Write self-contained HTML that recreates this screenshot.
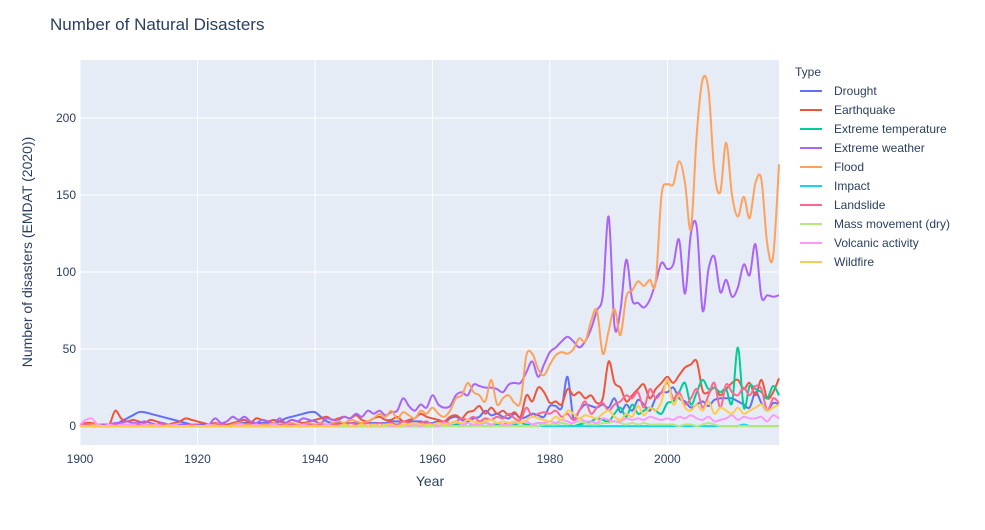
<!DOCTYPE html>
<html><head><meta charset="utf-8"><style>
body{margin:0;background:#fff;font-family:"Liberation Sans",sans-serif}
svg text{font-family:"Liberation Sans",sans-serif;fill:#2a3f5f}
</style></head><body>
<svg id="chart" width="985" height="525" xmlns="http://www.w3.org/2000/svg">
<rect width="985" height="525" fill="#fff"/>
<text x="50" y="30" font-size="17">Number of Natural Disasters</text>
<rect x="80" y="60" width="699" height="385" fill="#e5ecf6"/>
<g id="grid"></g><g id="series"></g><g id="ticks"></g>
<text x="430" y="486" font-size="14" text-anchor="middle">Year</text>
<text transform="translate(32,252) rotate(-90)" font-size="14" text-anchor="middle">Number of disasters (EMDAT (2020))</text>
<text x="795" y="76" font-size="12">Type</text>
<g id="legend"></g>
</svg>
<script>
const years=[];for(let y=1900;y<=2019;y++)years.push(y);
const seriesNames=["Drought","Earthquake","Extreme temperature","Extreme weather","Flood","Impact","Landslide","Mass movement (dry)","Volcanic activity","Wildfire"];
const colors=["#636efa","#EF553B","#00cc96","#ab63fa","#FFA15A","#19d3f3","#FF6692","#B6E880","#FF97FF","#FECB52"];
const drought=[0,0,1,1,0,1,1,3,5,7, 9,9,8,7,6,5,4,3,2,1, 1,1,1,1,1,1,1,2,2,2, 2,2,2,2,3,5,6,7,8,9, 9,6,3,2,2,2,2,2,2,2, 2,2,2,3,3,3,3,3,3,2, 2,3,2,5,6,4,3,5,6,10, 7,8,6,5,8,5,6,8,7,6, 13,13,12,32,5,10,14,13,12,14, 12,18,9,14,10,17,14,10,18,22, 22,25,18,16,12,14,16,13,17,18, 18,18,16,14,12,22,15,10,15,14];
const earthquake=[1,2,2,1,1,1,10,5,3,4, 3,2,4,3,2,1,2,3,5,4, 3,2,1,2,1,1,2,3,4,2, 5,4,3,4,3,2,4,3,2,3, 4,5,6,4,5,6,5,7,4,3, 5,6,4,4,6,3,4,5,8,6, 5,4,3,6,7,5,9,10,13,8, 12,8,10,7,9,6,20,16,25,22, 15,16,14,24,20,22,18,20,15,18, 42,28,25,16,20,24,27,18,24,28, 32,28,33,38,40,42,23,22,25,20, 24,28,30,24,28,20,30,18,22,31];
const extremeTemp=[0,0,0,0,0,0,0,0,0,0, 0,0,0,0,0,0,0,0,0,0, 0,0,0,0,0,0,0,0,0,0, 0,0,0,0,0,0,0,0,0,0, 0,0,0,0,0,0,0,0,0,0, 0,0,0,0,0,0,0,0,0,0, 0,0,1,0,1,1,0,1,1,2, 1,1,1,2,1,2,1,1,2,1, 1,1,2,1,0,1,2,3,5,4, 3,8,12,6,14,8,10,12,10,8, 15,16,22,28,14,22,30,24,25,22, 24,15,51,12,26,24,22,18,26,20];
const extremeWeather=[0,1,0,0,1,1,2,2,3,2, 2,3,2,1,2,1,0,1,1,0, 1,0,1,5,2,3,6,4,6,3, 2,4,3,2,5,2,4,3,5,4, 3,2,5,4,4,6,5,8,6,10, 8,10,7,9,10,18,13,10,14,12, 20,14,12,13,20,22,20,27,26,25, 25,24,22,27,28,28,35,42,32,40, 48,51,55,58,55,51,55,63,75,85, 136,65,75,108,82,80,77,82,93,106, 102,105,121,86,125,129,75,102,110,87, 95,84,90,105,98,118,84,85,84,85];
const flood=[1,1,1,1,0,0,0,1,1,1, 1,0,1,0,0,1,0,0,0,1, 0,0,0,1,1,0,1,2,1,1, 0,1,1,2,1,1,2,1,1,2, 1,2,1,2,3,2,4,3,2,3, 5,8,6,10,5,9,7,5,10,8, 12,8,6,10,18,20,28,22,20,16, 30,14,18,20,15,16,46,47,37,33, 40,46,48,47,50,57,55,68,75,47, 62,76,59,84,88,94,91,95,93,150, 157,157,172,158,128,190,225,218,165,152, 184,150,136,149,135,158,160,118,110,170];
const impact=[0,0,0,0,0,0,0,0,0,0, 0,0,0,0,0,0,0,0,0,0, 0,0,0,0,0,0,0,0,0,0, 0,0,0,0,0,0,0,0,0,0, 0,0,0,0,0,0,0,0,0,0, 0,0,0,0,0,0,0,0,0,0, 0,0,0,0,0,0,0,0,0,0, 0,0,0,0,0,0,0,0,0,0, 0,0,0,0,0,0,0,0,0,0, 0,0,0,0,0,0,0,0,0,0, 0,0,0,0,0,0,0,0,0,0, 0,0,0,1,0,0,0,0,0,0];
const landslide=[0,1,0,0,0,0,1,0,0,0, 1,0,0,0,1,0,0,0,0,1, 0,0,0,0,1,0,0,1,0,0, 1,0,0,0,1,0,1,0,0,1, 0,1,0,1,1,0,2,1,1,2, 1,2,1,2,1,3,2,1,2,3, 1,2,3,2,3,5,4,6,3,5, 4,6,5,8,5,4,12,6,8,9, 8,10,6,8,4,10,16,8,12,15, 10,14,16,20,18,22,12,24,18,22, 28,18,22,14,18,24,12,20,28,12, 27,22,20,25,20,26,24,10,18,15];
const massMovement=[0,0,0,0,0,0,0,0,0,0, 0,0,0,0,0,0,0,0,0,0, 0,0,0,0,0,0,0,0,0,0, 0,0,0,0,0,0,0,0,0,0, 0,0,0,0,0,0,0,0,0,0, 0,0,0,0,0,0,0,0,0,0, 0,0,0,0,0,0,0,0,0,0, 0,0,0,0,0,0,0,0,0,1, 1,1,2,1,2,3,2,1,1,2, 2,3,2,1,2,1,2,1,1,1, 1,1,0,1,1,0,1,2,1,0, 0,0,0,0,0,0,0,0,0,0];
const volcanic=[1,4,5,1,0,1,0,1,1,1, 0,1,0,1,0,0,1,0,0,0, 0,0,1,0,0,0,0,1,0,0, 1,0,0,1,0,0,0,0,1,0, 0,0,1,0,0,1,0,0,1,0, 1,0,1,0,0,1,0,1,0,1, 1,0,2,1,3,1,2,1,1,2, 1,2,1,1,2,2,3,1,2,2, 3,2,4,3,2,5,3,3,2,5, 4,3,3,5,4,5,4,6,5,4, 5,4,6,5,7,5,4,6,3,4, 5,7,4,6,5,5,6,3,7,5];
const wildfire=[0,0,0,0,0,0,0,0,0,0, 0,0,0,0,0,0,0,0,0,0, 0,0,0,0,0,0,0,0,0,0, 0,0,0,0,0,0,0,0,0,0, 0,0,0,0,0,1,0,0,1,0, 1,0,1,1,0,1,1,2,1,1, 1,2,1,2,3,2,4,3,2,3, 4,2,3,2,3,2,4,6,5,4, 3,6,4,10,8,5,7,6,5,8, 10,6,4,8,6,13,7,12,10,16, 30,14,20,12,10,14,10,16,8,12, 10,8,12,8,10,12,14,10,12,14];
const seriesData=[drought,earthquake,extremeTemp,extremeWeather,flood,impact,landslide,massMovement,volcanic,wildfire];
const xTicks=[1900,1920,1940,1960,1980,2000];
const yTicks=[0,50,100,150,200];
const X0=80,X1=779,Y0=60,Y1=445,xmin=1900,xmax=2019,ymin=-12.3,ymax=237.7;
const xs=v=>X0+(v-xmin)/(xmax-xmin)*(X1-X0);
const ys=v=>Y1-(v-ymin)/(ymax-ymin)*(Y1-Y0);
const NS="http://www.w3.org/2000/svg";
function mk(t,a,p){const e=document.createElementNS(NS,t);for(const k in a)e.setAttribute(k,a[k]);p.appendChild(e);return e;}
const grid=document.getElementById('grid'),ticks=document.getElementById('ticks');
xTicks.forEach(t=>{const l=mk('line',{x1:xs(t),x2:xs(t),y1:Y0,y2:Y1,stroke:'#fff','stroke-width':1},grid);


const tx=mk('text',{x:xs(t),y:Y1+18,'font-size':12,'text-anchor':'middle'},ticks);tx.textContent=t;

});
yTicks.forEach(t=>{const l=mk('line',{x1:X0,x2:X1,y1:ys(t),y2:ys(t),stroke:'#fff','stroke-width':t===0?2:1},grid);


const tx=mk('text',{x:X0-4,y:ys(t)+4,'font-size':12,'text-anchor':'end'},ticks);tx.textContent=t;

});
function spline(pts){let d='M'+pts[0][0]+','+pts[0][1];const k=0.5/3*2;
for(let i=0;i<pts.length-1;i++){const p0=pts[i-1]||pts[i],p1=pts[i],p2=pts[i+1],p3=pts[i+2]||p2;
const c1=[p1[0]+(p2[0]-p0[0])*k/2,p1[1]+(p2[1]-p0[1])*k/2],c2=[p2[0]-(p3[0]-p1[0])*k/2,p2[1]-(p3[1]-p1[1])*k/2];
d+=`C${c1[0].toFixed(1)},${c1[1].toFixed(1)} ${c2[0].toFixed(1)},${c2[1].toFixed(1)} ${p2[0].toFixed(1)},${p2[1].toFixed(1)}`;}return d;}
const sg=document.getElementById('series'),lg=document.getElementById('legend');
seriesNames.forEach((n,i)=>{const pts=years.map((y,j)=>[xs(y),ys(seriesData[i][j])]);
const p=mk('path',{d:spline(pts),fill:'none',stroke:colors[i],'stroke-width':2},sg);

});
seriesNames.forEach((n,i)=>{const g=mk('g',{},lg);


const y=91+i*19;mk('line',{x1:800,x2:822,y1:y,y2:y,stroke:colors[i],'stroke-width':2},g);
const t=mk('text',{x:834,y:y+4,'font-size':12},g);t.textContent=n;});
</script>
</body></html>
